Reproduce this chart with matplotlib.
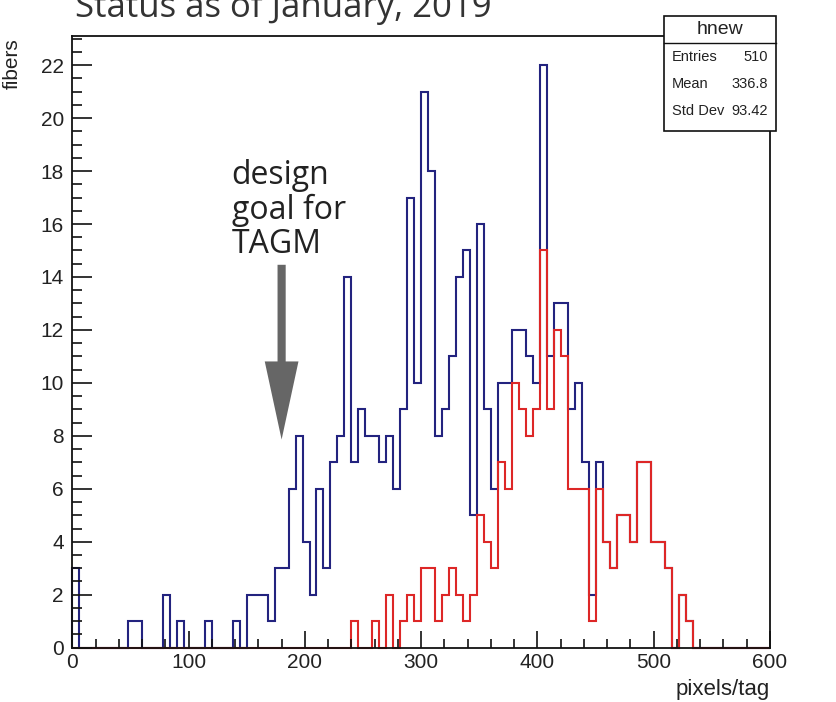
# tagm_pixels_hist.py
# Pixels-per-tag distribution for the TAGM fibers, ROOT-style histogram look.

import numpy as np
import matplotlib.pyplot as plt
from matplotlib.patches import FancyArrow, Rectangle
from matplotlib.ticker import MultipleLocator


# ----------------------------
# Data (100 bins, 0..600 pixels/tag)
# ----------------------------

bin_edges = np.linspace(0, 600, 101)

all_fibers = [
    3, 0, 0, 0, 0, 0, 0, 0, 1, 1,
    0, 0, 0, 2, 0, 1, 0, 0, 0, 1,
    0, 0, 0, 1, 0, 2, 2, 2, 1, 3,
    3, 6, 8, 4, 2, 6, 3, 7, 8, 14,
    7, 9, 8, 8, 7, 8, 6, 9, 17, 10,
    21, 18, 8, 9, 11, 14, 15, 5, 16, 9,
    6, 10, 10, 12, 12, 11, 10, 22, 11, 13,
    13, 9, 10, 7, 2, 7, 4, 3, 5, 5,
    4, 7, 7, 4, 4, 3, 0, 2, 1, 0,
    0, 0, 0, 0, 0, 0, 0, 0, 0, 0,
]

subset_fibers = [
    0, 0, 0, 0, 0, 0, 0, 0, 0, 0,
    0, 0, 0, 0, 0, 0, 0, 0, 0, 0,
    0, 0, 0, 0, 0, 0, 0, 0, 0, 0,
    0, 0, 0, 0, 0, 0, 0, 0, 0, 0,
    1, 0, 0, 1, 0, 2, 0, 1, 2, 1,
    3, 3, 1, 2, 3, 2, 1, 2, 5, 4,
    3, 7, 6, 10, 9, 8, 9, 15, 9, 12,
    11, 6, 6, 6, 1, 6, 4, 3, 5, 5,
    4, 7, 7, 4, 4, 3, 0, 2, 1, 0,
    0, 0, 0, 0, 0, 0, 0, 0, 0, 0,
]

stats_rows = [("Entries", "510"), ("Mean", "336.8"), ("Std Dev", "93.42")]

design_goal = 180  # pixels/tag


# ----------------------------
# Plot
# ----------------------------

def main():
    W, H = 837, 702
    fig = plt.figure(figsize=(W / 100, H / 100), dpi=100)
    ax = fig.add_axes([72.3 / W, 1 - 647.7 / H, 697.7 / W, 611.7 / H])

    ax.stairs(all_fibers, bin_edges, color="#23237f", lw=1.5, clip_on=False)
    ax.stairs(subset_fibers, bin_edges, color="#dd2727", lw=1.5, clip_on=False)

    ax.set_xlim(0, 600)
    ax.set_ylim(0, 23.1)

    # ROOT-like ticks: inside, short minors
    ax.xaxis.set_major_locator(MultipleLocator(100))
    ax.xaxis.set_minor_locator(MultipleLocator(20))
    ax.yaxis.set_major_locator(MultipleLocator(2))
    ax.yaxis.set_minor_locator(MultipleLocator(0.5))
    ax.tick_params(which="both", direction="in", colors="#111111",
                   labelcolor="#222222", labelsize=15, width=1.2)
    ax.tick_params(axis="x", which="major", length=12, pad=4)
    ax.tick_params(axis="x", which="minor", length=6.5)
    ax.tick_params(axis="y", which="major", length=14.5, pad=6)
    ax.tick_params(axis="y", which="minor", length=7)
    for lab in ax.get_xticklabels() + ax.get_yticklabels():
        lab.set_fontfamily("Liberation Sans")
    for sp in ax.spines.values():
        sp.set_linewidth(1.3)
        sp.set_color("#111111")

    fig.text(12 / W, 1 - 38 / H, "fibers", rotation=90, ha="center", va="top",
             fontsize=15, family="Liberation Sans", color="#222222")
    fig.text(770 / W, 1 - 690 / H, "pixels/tag", ha="right", va="center",
             fontsize=16, family="Liberation Sans", color="#222222")

    # design goal arrow + note
    ax.add_patch(FancyArrow(design_goal, 14.46, 0, -6.6, width=7,
                            head_width=29, head_length=2.95,
                            length_includes_head=True, color="#666666", lw=0))
    ax.text(137, 14.6, "design\ngoal for\nTAGM", ha="left", va="bottom",
            fontsize=23, family="Open Sans", color="#222222", linespacing=1.05)

    fig.text(75 / W, 1 - 17 / H, "Status as of January, 2019", ha="left",
             va="baseline", fontsize=25, family="Open Sans", color="#333333")

    # stats box
    bx0, bx1, by0, by1 = 664, 776, 16, 131
    fig.patches.append(Rectangle((bx0 / W, 1 - by1 / H), (bx1 - bx0) / W,
                                 (by1 - by0) / H, transform=fig.transFigure,
                                 facecolor="white", edgecolor="#111111", lw=1.2,
                                 zorder=5))
    fig.lines.append(plt.Line2D([bx0 / W, bx1 / W], [1 - 43 / H, 1 - 43 / H],
                                transform=fig.transFigure, color="#111111",
                                lw=1.0, zorder=6))
    fig.text((bx0 + bx1) / 2 / W, 1 - 30 / H, "hnew", ha="center", va="center",
             fontsize=14, family="Liberation Sans", color="#222222", zorder=6)
    for k, (name, val) in enumerate(stats_rows):
        yy = 1 - (57 + 27 * k) / H
        fig.text((bx0 + 8) / W, yy, name, ha="left", va="center", fontsize=10.5,
                 family="Liberation Sans", color="#222222", zorder=6)
        fig.text((bx1 - 8) / W, yy, val, ha="right", va="center", fontsize=10.5,
                 family="Liberation Sans", color="#222222", zorder=6)

    fig.savefig("out.png", dpi=100)
    plt.close(fig)


if __name__ == "__main__":
    main()
